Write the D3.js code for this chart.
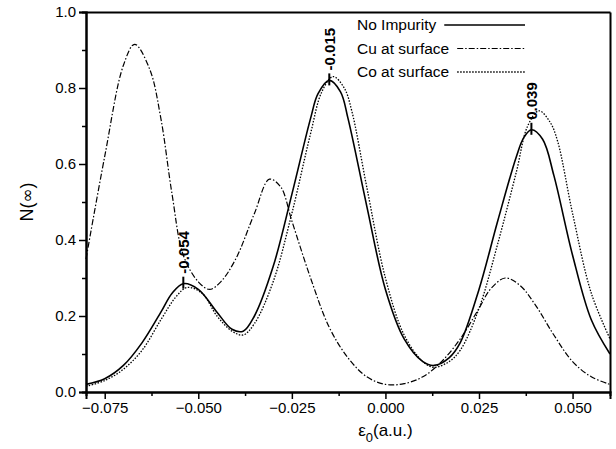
<!DOCTYPE html>
<html>
<head>
<meta charset="utf-8">
<script src="https://cdn.jsdelivr.net/npm/d3@7"></script>
<style>
  body { margin: 0; background: #fff; }
  svg { font-family: "Liberation Sans", Arial, sans-serif; }
  .axis path, .axis line { stroke: #000; }
  .axis path { stroke-width: 2; }
  .axis line { stroke-width: 1.5; }
  .axis text { font-size: 15px; fill: #000; }
  .curve { fill: none; stroke: #000; }
</style>
</head>
<body>
<script>
const xNone = [-0.08, -0.075, -0.07, -0.065, -0.06, -0.057, -0.054, -0.05, -0.045, -0.041, -0.038, -0.035, -0.03, -0.025, -0.02, -0.018, -0.015, -0.012, -0.01, -0.005, 0.0, 0.005, 0.01, 0.013, 0.017, 0.02, 0.025, 0.03, 0.035, 0.037, 0.039, 0.042, 0.045, 0.05, 0.055, 0.06];
const yNone = [0.02, 0.035, 0.07, 0.13, 0.21, 0.26, 0.285, 0.27, 0.21, 0.165, 0.16, 0.2, 0.33, 0.52, 0.72, 0.785, 0.82, 0.79, 0.72, 0.49, 0.27, 0.14, 0.08, 0.07, 0.09, 0.13, 0.27, 0.45, 0.62, 0.67, 0.69, 0.665, 0.57, 0.36, 0.19, 0.1];

const xCu = [-0.08, -0.075, -0.07, -0.067, -0.063, -0.06, -0.057, -0.054, -0.05, -0.047, -0.044, -0.04, -0.035, -0.031, -0.028, -0.025, -0.02, -0.015, -0.01, -0.005, 0.0, 0.005, 0.01, 0.015, 0.02, 0.025, 0.028, 0.032, 0.036, 0.04, 0.045, 0.05, 0.055, 0.06];
const yCu = [0.35, 0.62, 0.86, 0.915, 0.85, 0.72, 0.52, 0.36, 0.29, 0.27, 0.29, 0.35, 0.47, 0.56, 0.54, 0.45, 0.3, 0.17, 0.09, 0.04, 0.02, 0.022, 0.04, 0.08, 0.14, 0.22, 0.27, 0.3, 0.28, 0.23, 0.15, 0.08, 0.04, 0.02];

const xCo = [-0.08, -0.075, -0.07, -0.065, -0.06, -0.056, -0.053, -0.049, -0.045, -0.041, -0.038, -0.035, -0.03, -0.025, -0.02, -0.017, -0.014, -0.011, -0.009, -0.005, 0.0, 0.005, 0.01, 0.013, 0.017, 0.02, 0.025, 0.03, 0.035, 0.038, 0.041, 0.044, 0.046, 0.05, 0.055, 0.06];
const yCo = [0.015, 0.03, 0.06, 0.11, 0.19, 0.25, 0.275, 0.26, 0.2, 0.16, 0.15, 0.18, 0.29, 0.47, 0.68, 0.79, 0.83, 0.8, 0.74, 0.54, 0.3, 0.15, 0.08, 0.065, 0.08, 0.11, 0.22, 0.39, 0.58, 0.7, 0.74, 0.71, 0.66, 0.47, 0.26, 0.14];

const legendLabels = ["No Impurity", "Cu at surface", "Co at surface"];
const peakX = [-0.054, -0.015, 0.039];
const peakY = [0.285, 0.82, 0.69];
const peakLabels = ["-0.054", "-0.015", "0.039"];

const xTicks = [-0.075, -0.05, -0.025, 0.0, 0.025, 0.05];
const xMinorTicks = [-0.0625, -0.0375, -0.0125, 0.0125, 0.0375];
const yTicks = [0.0, 0.2, 0.4, 0.6, 0.8, 1.0];
const yMinorTicks = [0.1, 0.3, 0.5, 0.7, 0.9];

const WIDTH = 616;
const HEIGHT = 449;
const LEFT = 86, RIGHT = 610, TOP = 12, BOTTOM = 392;

var xScale = d3.scaleLinear().domain([-0.08, 0.06]).range([LEFT, RIGHT]);
var yScale = d3.scaleLinear().domain([0, 1]).range([BOTTOM, TOP]);

var dashes = ["none", "6,2,1.5,2", "1.5,1.5"];
var widths = [1.6, 1.2, 1.3];

var zip = function(xs, ys) {
  return xs.map(function(x, i) { return {x: x, y: ys[i]}; });
};

var onload = function() {
  var svg = d3.select('body').append('svg')
      .attr('width', WIDTH)
      .attr('height', HEIGHT);

  // minor ticks first
  svg.append('g').attr('class', 'axis')
      .attr('transform', 'translate(0,' + BOTTOM + ')')
      .call(d3.axisBottom(xScale).tickValues(xMinorTicks).tickSize(4).tickFormat(''));
  svg.append('g').attr('class', 'axis')
      .attr('transform', 'translate(' + LEFT + ',0)')
      .call(d3.axisLeft(yScale).tickValues(yMinorTicks).tickSize(4).tickFormat(''));

  svg.append('g').attr('class', 'axis')
      .attr('transform', 'translate(0,' + BOTTOM + ')')
      .call(d3.axisBottom(xScale).tickValues(xTicks).tickSize(7).tickPadding(3)
        .tickFormat(d3.format('.3f')));
  svg.append('g').attr('class', 'axis')
      .attr('transform', 'translate(' + LEFT + ',0)')
      .call(d3.axisLeft(yScale).tickValues(yTicks).tickSize(7).tickPadding(3)
        .tickFormat(d3.format('.1f')));

  // top and right frame
  svg.append('g').attr('class', 'axis')
      .attr('transform', 'translate(0,' + TOP + ')')
      .call(d3.axisTop(xScale).tickValues([]).tickSizeOuter(0));
  svg.append('g').attr('class', 'axis')
      .attr('transform', 'translate(' + RIGHT + ',0)')
      .call(d3.axisRight(yScale).tickValues([]).tickSizeOuter(0));

  var line = d3.line()
      .x(function(d) { return xScale(d.x); })
      .y(function(d) { return yScale(d.y); })
      .curve(d3.curveCatmullRom.alpha(0.5));

  var series = [zip(xNone, yNone), zip(xCu, yCu), zip(xCo, yCo)];

  svg.selectAll('.curve').data(series)
      .enter()
      .append('path')
      .attr('class', 'curve')
      .attr('d', line)
      .attr('stroke-width', function(d, i) { return widths[i]; })
      .attr('stroke-dasharray', function(d, i) { return dashes[i]; });

  // peak markers and labels
  var peaks = zip(peakX, peakY);
  svg.selectAll('.peak').data(peaks)
      .enter()
      .append('line')
      .attr('class', 'peak')
      .attr('x1', function(d) { return xScale(d.x); })
      .attr('x2', function(d) { return xScale(d.x); })
      .attr('y1', function(d) { return yScale(d.y) - 7; })
      .attr('y2', function(d) { return yScale(d.y) + 5; })
      .attr('stroke', '#000')
      .attr('stroke-width', 2);

  svg.selectAll('.peakLabel').data(peaks)
      .enter()
      .append('text')
      .attr('class', 'peakLabel')
      .attr('transform', function(d) {
        return 'translate(' + (xScale(d.x) + 5.5) + ',' + (yScale(d.y) - 10) + ') rotate(-90)';
      })
      .attr('font-size', 15)
      .attr('font-weight', 'bold')
      .text(function(d, i) { return peakLabels[i]; });

  // legend
  var legend = svg.append('g');
  legendLabels.forEach(function(label, i) {
    var y = 25 + i * 23.5;
    var t = legend.append('text')
        .attr('x', 357)
        .attr('y', y + 5)
        .attr('font-size', 15.5)
        .text(label);
    var w = t.node().getComputedTextLength();
    legend.append('line')
        .attr('x1', 357 + w + 8)
        .attr('x2', 525)
        .attr('y1', y)
        .attr('y2', y)
        .attr('stroke', '#000')
        .attr('stroke-width', widths[i])
        .attr('stroke-dasharray', dashes[i]);
  });

  // axis titles
  var yt = svg.append('text')
      .attr('transform', 'translate(33,' + yScale(0.5) + ') rotate(-90)')
      .attr('text-anchor', 'middle')
      .attr('font-size', 18);
  yt.append('tspan').text('N(');
  yt.append('tspan').attr('font-family', 'DejaVu Sans').attr('font-size', 17).text('∞');
  yt.append('tspan').text(')');

  var xt = svg.append('text')
      .attr('x', xScale(0))
      .attr('y', 436)
      .attr('text-anchor', 'middle')
      .attr('font-size', 17);
  xt.append('tspan').text('ε');
  xt.append('tspan').attr('dy', 6).attr('font-size', 13).text('0');
  xt.append('tspan').attr('dy', -6).text('(a.u.)');
};

window.onload = onload;
</script>
</body>
</html>
